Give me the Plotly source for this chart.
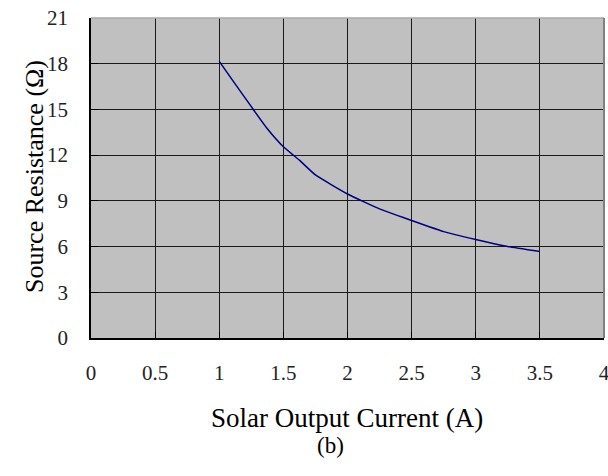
import plotly.graph_objects as go

# Data
current_A = [1.0, 1.125, 1.25, 1.375, 1.5, 1.625, 1.75, 2.0, 2.25, 2.5, 2.75, 3.0, 3.25, 3.5]
resistance_ohm = [18.15, 16.66, 15.18, 13.73, 12.55, 11.67, 10.7, 9.45, 8.47, 7.71, 6.98, 6.46, 6.0, 5.67]

x_ticks = [0, 0.5, 1, 1.5, 2, 2.5, 3, 3.5, 4]
x_tick_labels = ["0", "0.5", "1", "1.5", "2", "2.5", "3", "3.5", "4"]
y_ticks = [0, 3, 6, 9, 12, 15, 18, 21]
y_tick_labels = ["0", "3", "6", "9", "12", "15", "18", "21"]

x_title = "Solar Output Current (A)"
y_title = "Source Resistance (Ω)"
caption = "(b)"

FONT = "Liberation Serif"
L, R, T, B = 91, 604, 18, 338  # plot area in pixels
W, H = 608, 476

def px_to_paper(px, py):
    return (px - L) / (R - L), (B - py) / (B - T)

fig = go.Figure()
fig.add_trace(go.Scatter(
    x=current_A, y=resistance_ohm, mode="lines",
    line=dict(color="#000080", width=1.5, shape="spline", smoothing=0.4),
    showlegend=False, hoverinfo="skip",
))

fig.update_layout(
    width=W, height=H,
    margin=dict(l=L, r=W - R, t=T, b=H - B, autoexpand=False),
    paper_bgcolor="white",
    plot_bgcolor="#c0c0c0",
    font=dict(family=FONT, color="black"),
    showlegend=False,
)

fig.update_xaxes(
    range=[0, 4], tickvals=x_ticks, ticktext=x_tick_labels,
    showgrid=True, gridcolor="#1a1a1a", gridwidth=1,
    showline=True, linecolor="black", linewidth=1.5,
    ticks="inside", ticklen=6, tickcolor="black",
    tickfont=dict(family=FONT, size=21, color="#222"),
    ticklabelstandoff=15, ticklabeloverflow="allow",
    zeroline=False, automargin=False,
)
fig.update_yaxes(
    range=[0, 21], tickvals=y_ticks, ticktext=y_tick_labels,
    showgrid=True, gridcolor="#1a1a1a", gridwidth=1,
    showline=True, linecolor="black", linewidth=1.5,
    ticks="inside", ticklen=7, tickcolor="black",
    tickfont=dict(family=FONT, size=21, color="#222"),
    ticklabelstandoff=17, ticklabeloverflow="allow",
    zeroline=False, automargin=False,
)

# top (light) and right (darker) frame lines
fig.add_shape(type="line", xref="x domain", yref="y domain", x0=0, x1=1, y0=1, y1=1,
              line=dict(color="#a8a8a8", width=1.5))
fig.add_shape(type="line", xref="x domain", yref="y domain", x0=1, x1=1, y0=0, y1=1,
              line=dict(color="#808080", width=2))

# axis titles and caption
ax, ay = px_to_paper(347, 418)
fig.add_annotation(text=x_title, xref="paper", yref="paper", x=ax, y=ay,
                   xanchor="center", yanchor="middle", showarrow=False,
                   font=dict(family=FONT, size=27, color="black"))
yx, yy = px_to_paper(34, 177)
fig.add_annotation(text=y_title, xref="paper", yref="paper", x=yx, y=yy, textangle=-90,
                   xanchor="center", yanchor="middle", showarrow=False,
                   font=dict(family=FONT, size=26, color="black"))
cx, cy = px_to_paper(330, 445)
fig.add_annotation(text=caption, xref="paper", yref="paper", x=cx, y=cy,
                   xanchor="center", yanchor="middle", showarrow=False,
                   font=dict(family=FONT, size=23, color="black"))

fig.write_html("out.html", config={"displayModeBar": False},
               post_script="document.body.style.margin='0';")
